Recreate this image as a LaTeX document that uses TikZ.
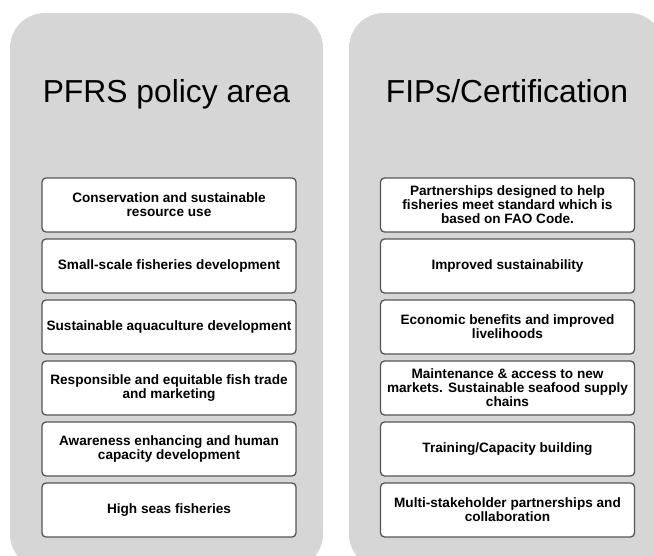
\documentclass[tikz,border=0pt]{standalone}
\usepackage{fontspec}
\setmainfont{Liberation Sans}
\usepackage{tikz}
\usetikzlibrary{positioning}
\definecolor{panelgray}{RGB}{214,214,214}
\definecolor{boxline}{RGB}{85,85,85}

\begin{document}
\begin{tikzpicture}[x=1pt,y=-1pt,node distance=61pt,
    panel/.style={fill=panelgray,rounded corners=35pt,inner sep=0pt},
    title node/.style={anchor=base,font=\fontsize{31.8}{35}\selectfont},
    item node/.style={draw=boxline,line width=1.3pt,fill=white,rounded corners=4pt,
      minimum width=254pt,minimum height=54pt,inner sep=1pt,align=center,
      font=\bfseries\fontsize{13.6}{14}\selectfont}]
    \useasboundingbox (0,0) rectangle (654,556);

    \node[panel,minimum width=313pt,minimum height=556pt] (pfrs) at (166.5,291) {};
    \node[panel,minimum width=315pt,minimum height=556pt] (fips) at (506.5,291) {};

    \node[title node] (t1) at (166.5,103) {PFRS policy area};
    \node[title node] (t2) at (507,103) {FIPs/Certification};

    \node[item node] (1) at (169,205) {Conservation and sustainable\\resource use};
    \node[item node] (2) [below of=1] {Small-scale fisheries development};
    \node[item node] (3) [below of=2] {Sustainable aquaculture development};
    \node[item node] (4) [below of=3] {Responsible and equitable fish trade\\and marketing};
    \node[item node] (5) [below of=4] {Awareness enhancing and human\\capacity development};
    \node[item node] (6) [below of=5] {High seas fisheries};

    \node[item node] (7) at (507.5,205) {Partnerships designed to help\\fisheries meet standard which is\\based on FAO Code.};
    \node[item node] (8) [below of=7] {Improved sustainability};
    \node[item node] (9) [below of=8] {Economic benefits and improved\\livelihoods};
    \node[item node] (10) [below of=9] {Maintenance \& access to new\\markets.  Sustainable seafood supply\\chains};
    \node[item node] (11) [below of=10] {Training/Capacity building};
    \node[item node] (12) [below of=11] {Multi-stakeholder partnerships and\\collaboration};
  \end{tikzpicture}
\end{document}
